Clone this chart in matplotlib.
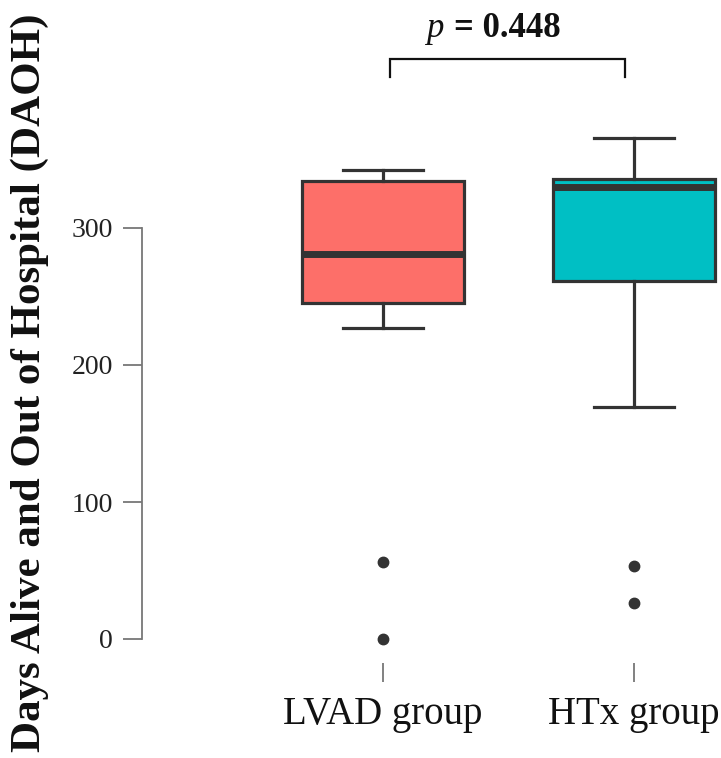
import matplotlib
matplotlib.use("Agg")
import matplotlib.pyplot as plt

# ---- data ----
groups = ["LVAD group", "HTx group"]
whislo = [227, 169]
q1 = [245, 261]
med = [281, 330]
q3 = [334, 336]
whishi = [342, 366]
fliers = [[56, 0], [53, 26]]
box_colors = ["#FD6F69", "#00BFC4"]
y_ticks = [0, 100, 200, 300]
p_text = "= 0.448"

W, H = 721, 758
fig = plt.figure(figsize=(W / 100, H / 100), dpi=100)
ax = fig.add_axes([0, 0, 1, 1])

# pixel mapping (data limits chosen so the figure fills like the reference)
px_per_unit_x = 251.0
x0_pix = 383.0
px_per_val = 1.37
y0_pix = 639.0
ax.set_xlim(1 - x0_pix / px_per_unit_x, 1 + (W - x0_pix) / px_per_unit_x)
ax.set_ylim(-(H - y0_pix) / px_per_val, y0_pix / px_per_val)

positions = list(range(1, len(groups) + 1))
stats = []
for i, g in enumerate(groups):
    stats.append(dict(label=g, whislo=whislo[i], q1=q1[i], med=med[i],
                      q3=q3[i], whishi=whishi[i], fliers=fliers[i]))

edge = "#333333"
bp = ax.bxp(stats, positions=positions, widths=0.645, capwidths=0.32,
            patch_artist=True, showfliers=True,
            boxprops=dict(edgecolor=edge, linewidth=2.3),
            medianprops=dict(color=edge, linewidth=5.0, solid_capstyle="butt"),
            whiskerprops=dict(color=edge, linewidth=2.3),
            capprops=dict(color=edge, linewidth=2.3),
            flierprops=dict(marker="o", markerfacecolor=edge, markeredgecolor=edge,
                            markersize=7.5))
for patch, c in zip(bp["boxes"], box_colors):
    patch.set_facecolor(c)

# axes styling (R base style)
for s in ["top", "right", "bottom"]:
    ax.spines[s].set_visible(False)
axis_gray = "#777777"
ax.spines["left"].set_position(("data", 1 - (x0_pix - 142) / px_per_unit_x))
ax.spines["left"].set_bounds(min(y_ticks), max(y_ticks))
ax.spines["left"].set_color(axis_gray)
ax.spines["left"].set_linewidth(1.3)
ax.set_yticks(y_ticks)
ax.set_yticklabels([str(t) for t in y_ticks], fontsize=20, family="Liberation Serif",
                   color="#222222")
ax.tick_params(axis="y", direction="out", length=14, width=1.3, color=axis_gray, pad=7)

ax.spines["bottom"].set_position(("data", -(663 - y0_pix) / px_per_val))
ax.set_xticks(positions)
ax.set_xticklabels(groups, fontsize=28, family="Liberation Serif", color="#111111")
ax.tick_params(axis="x", direction="out", length=14, width=1.3, color=axis_gray, pad=10)

# significance bracket
top_val = (y0_pix - 59) / px_per_val
drop_val = (y0_pix - 77) / px_per_val
bx1 = positions[0] + 0.028
bx2 = positions[1] - 0.036
ax.plot([bx1, bx1, bx2, bx2], [drop_val, top_val, top_val, drop_val],
        color="#111111", linewidth=1.6, solid_joinstyle="miter")
ax.text(1.239, top_val + 16, "p", fontsize=25, family="Liberation Serif",
        style="italic", ha="right", va="baseline", color="#111111")
ax.text(1.283, top_val + 16, p_text, fontsize=25, family="Liberation Serif",
        fontweight="bold", ha="left", va="baseline", color="#111111")

fig.text(30 / W, 1 - 383 / H, "Days Alive and Out of Hospital (DAOH)",
         rotation=90, ha="center", va="center", fontsize=31,
         family="Liberation Serif", fontweight="bold", color="#111111")

fig.savefig("out.png", dpi=100)
